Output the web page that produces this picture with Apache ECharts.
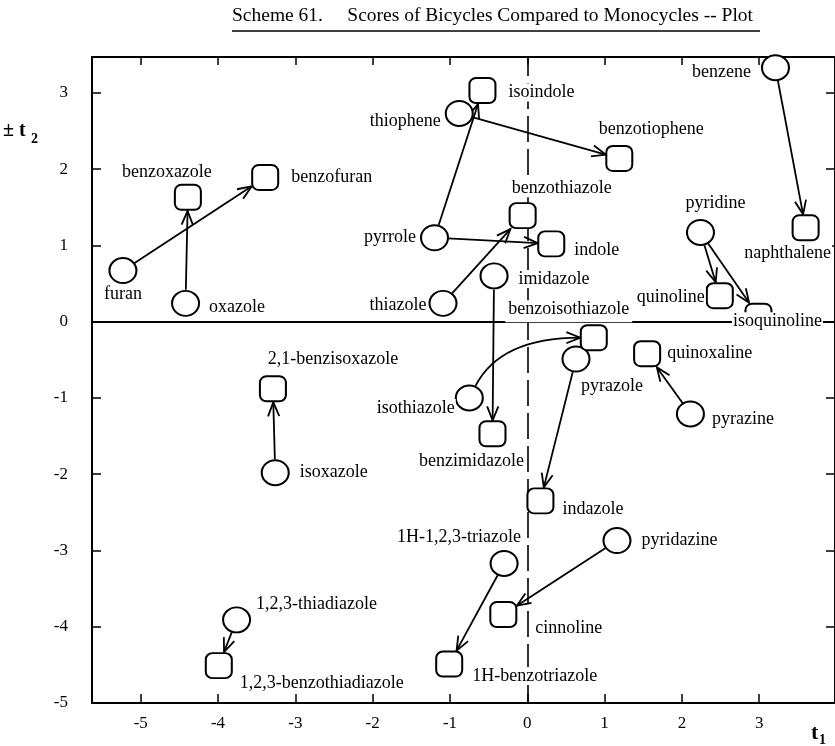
<!DOCTYPE html>
<html>
<head>
<meta charset="utf-8">
<script src="https://cdn.jsdelivr.net/npm/echarts@6/dist/echarts.min.js"></script>
<style>
  html, body { margin: 0; padding: 0; background: #fff; }
  #chart { width: 835px; height: 746px; }
</style>
</head>
<body>
<div id="chart"></div>
<script>
// monocycles (drawn as circles)
var monoNames = ['furan', 'oxazole', 'thiophene', 'pyrrole', 'thiazole', 'imidazole', 'benzene',
  'pyridine', 'isothiazole', 'pyrazole', 'pyrazine', 'isoxazole', '1H-1,2,3-triazole',
  'pyridazine', '1,2,3-thiadiazole'];
var monoT1 = [-5.23, -4.42, -0.88, -1.20, -1.09, -0.43, 3.21, 2.24, -0.75, 0.63, 2.11, -3.26, -0.30, 1.16, -3.76];
var monoT2 = [0.67, 0.24, 2.73, 1.10, 0.24, 0.60, 3.33, 1.17, -1.00, -0.49, -1.21, -1.98, -3.17, -2.87, -3.91];

// bicycles (drawn as rounded squares)
var biNames = ['benzoxazole', 'benzofuran', 'isoindole', 'benzotiophene', 'benzothiazole', 'indole',
  'naphthalene', 'quinoline', 'isoquinoline', 'benzoisothiazole', 'quinoxaline', '2,1-benzisoxazole',
  'benzimidazole', 'indazole', 'cinnoline', '1H-benzotriazole', '1,2,3-benzothiadiazole'];
var biT1 = [-4.39, -3.39, -0.58, 1.19, -0.06, 0.31, 3.60, 2.49, 2.99, 0.86, 1.55, -3.29, -0.45, 0.17, -0.31, -1.01, -3.99];
var biT2 = [1.63, 1.89, 3.03, 2.14, 1.39, 1.02, 1.23, 0.34, 0.07, -0.21, -0.42, -0.88, -1.47, -2.35, -3.84, -4.49, -4.51];

// arrows monocycle -> bicycle
var arrowFrom = ['furan', 'oxazole', 'pyrrole', 'thiophene', 'pyrrole', 'thiazole', 'imidazole', 'benzene',
  'pyridine', 'pyridine', 'isothiazole', 'pyrazole', 'pyrazine', 'isoxazole', 'pyridazine',
  '1H-1,2,3-triazole', '1,2,3-thiadiazole'];
var arrowTo = ['benzofuran', 'benzoxazole', 'isoindole', 'benzotiophene', 'indole', 'benzothiazole', 'benzimidazole',
  'naphthalene', 'quinoline', 'isoquinoline', 'benzoisothiazole', 'indazole', 'quinoxaline', '2,1-benzisoxazole',
  'cinnoline', '1H-benzotriazole', '1,2,3-benzothiadiazole'];
var curvedArrows = ['isothiazole'];

var xTicks = [-5, -4, -3, -2, -1, 0, 1, 2, 3];
var yTicks = [-5, -4, -3, -2, -1, 0, 1, 2, 3];

// where each name sits relative to its marker
var labelPlace = {
  'furan': { position: 'bottom', distance: 1 },
  'oxazole': { position: 'right', distance: 8, offset: [0, 4] },
  'thiophene': { position: 'left', distance: 3, offset: [0, 8] },
  'pyrrole': { position: 'left', distance: 3 },
  'thiazole': { position: 'left', distance: 1, offset: [0, 2] },
  'imidazole': { position: 'right', distance: 9, offset: [0, 3] },
  'benzene': { position: 'left', distance: 9, offset: [0, 5] },
  'pyridine': { position: 'top', distance: 7, offset: [15, 0] },
  'isothiazole': { position: 'left', distance: -1, offset: [0, 10] },
  'pyrazole': { position: 'bottom', distance: 5, offset: [36, 0] },
  'pyrazine': { position: 'right', distance: 6, offset: [0, 5] },
  'isoxazole': { position: 'right', distance: 9 },
  '1H-1,2,3-triazole': { position: 'top', distance: 4, offset: [-45, 0] },
  'pyridazine': { position: 'right', distance: 9 },
  '1,2,3-thiadiazole': { position: 'right', distance: 4, offset: [0, -16] },
  'benzoxazole': { position: 'top', distance: 3, offset: [-21, 0] },
  'benzofuran': { position: 'right', distance: 11 },
  'isoindole': { position: 'right', distance: 11, offset: [0, 2] },
  'benzotiophene': { position: 'top', distance: 7, offset: [32, 0] },
  'benzothiazole': { position: 'top', distance: 5, offset: [39, 0] },
  'indole': { position: 'right', distance: 8, offset: [0, 6] },
  'naphthalene': { position: 'bottom', distance: 3, offset: [-18, 0] },
  'quinoline': { position: 'left', distance: 0, offset: [0, 2] },
  'isoquinoline': { position: 'inside', offset: [19, 5] },
  'benzoisothiazole': { position: 'top', distance: 2, offset: [-25, 0], padding: [0, 3, 4, 3] },
  'quinoxaline': { position: 'right', distance: 5 },
  '2,1-benzisoxazole': { position: 'top', distance: 7, offset: [60, 0] },
  'benzimidazole': { position: 'bottom', distance: 5, offset: [-21, 0] },
  'indazole': { position: 'right', distance: 7, offset: [0, 8] },
  'cinnoline': { position: 'right', distance: 17, offset: [0, 14] },
  '1H-benzotriazole': { position: 'right', distance: 8, offset: [0, 12] },
  '1,2,3-benzothiadiazole': { position: 'right', distance: 6, offset: [0, 18] }
};

var SERIF = '"Liberation Serif", "DejaVu Serif", serif';
var FS = 18;

var pos = {};
monoNames.forEach(function (n, i) { pos[n] = [monoT1[i], monoT2[i]]; });
biNames.forEach(function (n, i) { pos[n] = [biT1[i], biT2[i]]; });

function pointData(names, xs, ys) {
  return names.map(function (n, i) {
    return { name: n, value: [xs[i], ys[i]], label: labelPlace[n] };
  });
}

var arrowData = arrowFrom.map(function (f, i) {
  var a = pos[f], b = pos[arrowTo[i]];
  return [a[0], a[1], b[0], b[1], curvedArrows.indexOf(f) >= 0 ? 1 : 0];
});

var R = 13.5, H = 13.5, HEAD = 15, ANG = 22 * Math.PI / 180;

function unit(a, b) {
  var dx = b[0] - a[0], dy = b[1] - a[1], l = Math.sqrt(dx * dx + dy * dy) || 1;
  return [dx / l, dy / l];
}
function circleEdge(c, toward) {
  var u = unit(c, toward);
  return [c[0] + u[0] * R, c[1] + u[1] * R];
}
function squareEdge(c, from) {
  var u = unit(c, from);
  var t = H / Math.max(Math.abs(u[0]), Math.abs(u[1]));
  return [c[0] + u[0] * t, c[1] + u[1] * t];
}
function head(end, d) {
  var bx = -d[0], by = -d[1];
  function rot(a) {
    var c = Math.cos(a), s = Math.sin(a);
    return [end[0] + HEAD * (bx * c - by * s), end[1] + HEAD * (bx * s + by * c)];
  }
  return [rot(ANG), end, rot(-ANG)];
}

function renderArrow(params, api) {
  var s = api.coord([api.value(0), api.value(1)]);
  var e = api.coord([api.value(2), api.value(3)]);
  var style = { stroke: '#000', lineWidth: 1.8, fill: null };
  var children = [];
  var start, end, d;
  if (api.value(4) === 1) {
    var ctrl = [s[0] + (e[0] - s[0]) * 0.25, e[1]];
    start = circleEdge(s, ctrl);
    end = squareEdge(e, ctrl);
    d = unit(ctrl, end);
    children.push({ type: 'bezierCurve', shape: { x1: start[0], y1: start[1], x2: end[0], y2: end[1], cpx1: ctrl[0], cpy1: ctrl[1] }, style: style });
  } else {
    start = circleEdge(s, e);
    end = squareEdge(e, s);
    d = unit(start, end);
    children.push({ type: 'line', shape: { x1: start[0], y1: start[1], x2: end[0], y2: end[1] }, style: style });
  }
  children.push({ type: 'polyline', shape: { points: head(end, d) }, style: style });
  return { type: 'group', children: children };
}

var labelBase = {
  show: true,
  formatter: '{b}',
  fontFamily: SERIF,
  fontSize: FS,
  color: '#000',
  backgroundColor: '#fff',
  padding: [0, 1]
};

var axisFont = { fontFamily: SERIF, fontSize: 17, color: '#000' };
var lineBlack = { color: '#000', width: 2 };

var chart = echarts.init(document.getElementById('chart'), null, { renderer: 'canvas' });
chart.setOption({
  backgroundColor: '#fff',
  animation: false,
  grid: { left: 92, top: 57, width: 746, height: 646 },
  xAxis: [{
    type: 'value', min: -5.63, max: 3.98, position: 'bottom',
    axisLine: { show: true, onZero: false, lineStyle: lineBlack },
    axisTick: { show: true, inside: true, length: 9, customValues: xTicks, lineStyle: { color: '#000', width: 1.5 } },
    axisLabel: Object.assign({ customValues: xTicks, margin: 12 }, axisFont),
    splitLine: { show: false }
  }, {
    type: 'value', min: -5.63, max: 3.98, position: 'top',
    axisLine: { show: true, onZero: false, lineStyle: lineBlack },
    axisTick: { show: true, inside: true, length: 8, customValues: xTicks, lineStyle: { color: '#000', width: 1.5 } },
    axisLabel: { show: false },
    splitLine: { show: false }
  }],
  yAxis: [{
    type: 'value', min: -5, max: 3.47, position: 'left',
    axisLine: { show: true, onZero: false, lineStyle: lineBlack },
    axisTick: { show: true, inside: true, length: 9, customValues: yTicks, lineStyle: { color: '#000', width: 1.5 } },
    axisLabel: Object.assign({ customValues: yTicks, margin: 24 }, axisFont),
    splitLine: { show: false }
  }, {
    type: 'value', min: -5, max: 3.47, position: 'right',
    axisLine: { show: true, onZero: false, lineStyle: lineBlack },
    axisTick: { show: true, inside: true, length: 9, customValues: yTicks, lineStyle: { color: '#000', width: 1.5 } },
    axisLabel: { show: false },
    splitLine: { show: false }
  }],
  graphic: [
    { type: 'text', left: 232, top: 6, style: { text: 'Scheme 61.     Scores of Bicycles Compared to Monocycles -- Plot', font: '19.5px ' + SERIF, fill: '#000' } },
    { type: 'line', shape: { x1: 232, y1: 31, x2: 760, y2: 31 }, style: { stroke: '#000', lineWidth: 1.3 } },
    { type: 'text', x: 3, y: 121, style: { text: '\u00b1 t', font: 'bold 20px ' + SERIF, fill: '#000' } },
    { type: 'text', x: 31, y: 132, style: { text: '2', font: 'bold 14px ' + SERIF, fill: '#000' } },
    { type: 'text', x: 811, y: 722, style: { text: 't', font: 'bold 22px ' + SERIF, fill: '#000' } },
    { type: 'text', x: 819, y: 733, style: { text: '1', font: 'bold 14px ' + SERIF, fill: '#000' } }
  ],
  series: [{
    // reference lines t1 = 0 and t2 = 0, kept under the name labels
    type: 'scatter', data: [], z: 1, silent: true,
    markLine: {
      z: 1, silent: true, symbol: 'none', label: { show: false }, animation: false,
      data: [
        { xAxis: 0, lineStyle: { color: '#000', width: 1.6, type: [26, 7] } },
        { yAxis: 0, lineStyle: { color: '#000', width: 1.8, type: 'solid' } }
      ]
    }
  }, {
    type: 'custom', name: 'arrows', z: 2,
    coordinateSystem: 'cartesian2d',
    renderItem: renderArrow,
    encode: { x: [0, 2], y: [1, 3] },
    data: arrowData,
    silent: true
  }, {
    type: 'scatter', name: 'monocycles', z: 3,
    symbol: 'circle', symbolSize: [27, 25],
    itemStyle: { color: '#fff', borderColor: '#000', borderWidth: 2, opacity: 1 },
    label: labelBase,
    data: pointData(monoNames, monoT1, monoT2)
  }, {
    type: 'scatter', name: 'bicycles', z: 3,
    symbol: 'roundRect', symbolSize: [26, 25],
    itemStyle: { color: '#fff', borderColor: '#000', borderWidth: 2, opacity: 1 },
    label: labelBase,
    data: pointData(biNames, biT1, biT2)
  }]
});
</script>
</body>
</html>
